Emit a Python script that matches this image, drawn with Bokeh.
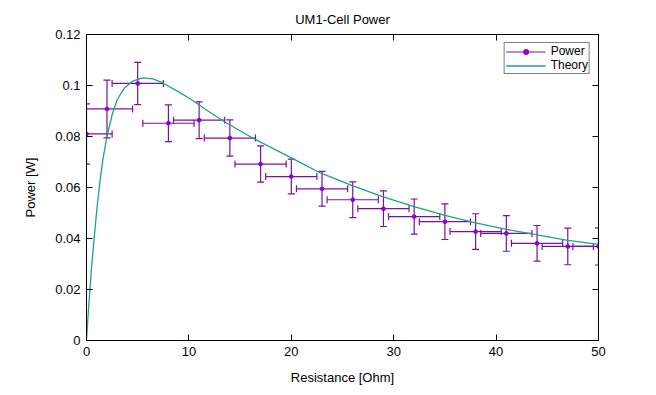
from bokeh.plotting import figure
from bokeh.models import Range1d, LinearAxis, FixedTicker, Legend, LegendItem
from bokeh.embed import file_html
from bokeh.resources import INLINE

# measured data
resistance = [0, 2, 5, 8, 11, 14, 17, 20, 23, 26, 29, 32, 35, 38, 41, 44, 47, 50]
power = [0.0810, 0.0908, 0.1008, 0.0852, 0.0864, 0.0794, 0.0692, 0.0643, 0.0595,
         0.0552, 0.0517, 0.0486, 0.0466, 0.0427, 0.0420, 0.0381, 0.0369, 0.0369]
power_err = [0.0118, 0.0113, 0.0083, 0.0072, 0.0072, 0.0071, 0.0071, 0.0068, 0.0068,
             0.0070, 0.0070, 0.0069, 0.0070, 0.0070, 0.0070, 0.0070, 0.0072, 0.0073]
resistance_err = [2.5, 2.5, 2.5, 2.5, 2.5, 2.5, 2.5, 2.5, 2.5,
                  2.5, 2.5, 2.5, 2.5, 2.5, 2.5, 2.5, 2.5, 2.5]

# theory curve
theory_r = [0, 0.15, 0.3, 0.5, 0.7, 1.0, 1.3, 1.6, 2.0, 2.5, 3.0, 3.7, 4.5, 5.5, 6.5,
            7.5, 9.0, 10.2, 11.5, 13.4, 16.3, 20, 22.9, 25.9, 28.9, 32, 35, 38, 41,
            44, 47, 50]
theory_p = [0, 0.0095, 0.018, 0.029, 0.038, 0.051, 0.062, 0.071, 0.080, 0.0885,
            0.0945, 0.0990, 0.1017, 0.1030, 0.1026, 0.1009, 0.0975, 0.0946, 0.0910,
            0.0860, 0.0792, 0.0716, 0.0656, 0.0608, 0.0564, 0.0525, 0.0491, 0.0461,
            0.0436, 0.0414, 0.0393, 0.0377]

x_ticks = [0, 10, 20, 30, 40, 50]
x_labels = ["0", "10", "20", "30", "40", "50"]
y_ticks = [0, 0.02, 0.04, 0.06, 0.08, 0.1, 0.12]
y_labels = ["0", "0.02", "0.04", "0.06", "0.08", "0.1", "0.12"]

FONT = "Liberation Sans"
PURPLE = "#9400d3"
BAR = "#7a10a8"
TEAL = "#1fa088"

p = figure(width=648, height=387, output_backend="svg", toolbar_location=None,
           x_range=Range1d(0, 50), y_range=Range1d(0, 0.12),
           min_border_left=86, min_border_right=50, min_border_top=34,
           min_border_bottom=45)
p.background_fill_color = "white"
p.border_fill_color = "white"
p.outline_line_color = "black"
p.outline_line_width = 1
p.xgrid.visible = False
p.ygrid.visible = False

p.title.text = "UM1-Cell Power"
p.title.align = "center"
p.title.text_font = FONT
p.title.text_font_size = "13px"
p.title.text_font_style = "normal"
p.title.text_color = "black"
p.title.standoff = 16

def style_axis(ax, ticks, labels, show_labels=True):
    ax.ticker = FixedTicker(ticks=ticks)
    ax.major_label_overrides = dict(zip(ticks, labels))
    ax.minor_tick_line_color = None
    ax.major_tick_in = 6
    ax.major_tick_out = 0
    ax.major_tick_line_color = "black"
    ax.axis_line_color = "black"
    ax.major_label_text_font = FONT
    ax.major_label_text_font_size = "13px"
    ax.major_label_text_color = "black"
    ax.axis_label_text_font = FONT
    ax.axis_label_text_font_size = "13px"
    ax.axis_label_text_font_style = "normal"
    ax.axis_label_text_color = "black"
    if not show_labels:
        ax.major_label_text_font_size = "0px"
        ax.major_label_standoff = 0

style_axis(p.xaxis[0], x_ticks, x_labels)
style_axis(p.yaxis[0], y_ticks, y_labels)
p.xaxis[0].axis_label = "Resistance [Ohm]"
p.yaxis[0].axis_label = "Power [W]"
p.xaxis[0].major_label_standoff = 6
p.xaxis[0].axis_label_standoff = 11
p.yaxis[0].major_label_standoff = 6
p.yaxis[0].axis_label_standoff = 14

top_ax = LinearAxis()
right_ax = LinearAxis()
style_axis(top_ax, x_ticks, ["", "", "", "", "", ""], show_labels=False)
style_axis(right_ax, y_ticks, ["", "", "", "", "", "", ""], show_labels=False)
p.add_layout(top_ax, "above")
p.add_layout(right_ax, "right")

# error bars
hx0 = [r - e for r, e in zip(resistance, resistance_err)]
hx1 = [r + e for r, e in zip(resistance, resistance_err)]
vy0 = [v - e for v, e in zip(power, power_err)]
vy1 = [v + e for v, e in zip(power, power_err)]

h_bars = p.segment(x0=hx0, x1=hx1, y0=power, y1=power, line_color=BAR, line_width=1.2)
p.segment(x0=resistance, x1=resistance, y0=vy0, y1=vy1, line_color=BAR, line_width=1.2)
# caps
p.scatter(x=resistance + resistance, y=vy0 + vy1, marker="dash", size=7,
          line_color=BAR, line_width=1.2)
p.scatter(x=hx0 + hx1, y=power + power, marker="dash", angle=1.5708, size=7,
          line_color=BAR, line_width=1.2)
pts = p.scatter(x=resistance, y=power, marker="circle", size=3.8,
                fill_color=PURPLE, line_color=PURPLE)

theory = p.line(x=theory_r, y=theory_p, line_color=TEAL, line_width=1.3)

legend = Legend(items=[LegendItem(label="Power", renderers=[h_bars, pts]),
                       LegendItem(label="Theory", renderers=[theory])],
                location="top_right")
legend.label_text_font = FONT
legend.label_text_font_size = "12px"
legend.label_text_color = "black"
legend.border_line_color = "black"
legend.border_line_width = 1
legend.background_fill_alpha = 1
legend.padding = 1
legend.spacing = 0
legend.margin = 8
legend.label_height = 13
legend.glyph_height = 13
legend.glyph_width = 40
legend.label_standoff = 5
p.add_layout(legend, "center")

open("out.html", "w").write(file_html(p, INLINE))
